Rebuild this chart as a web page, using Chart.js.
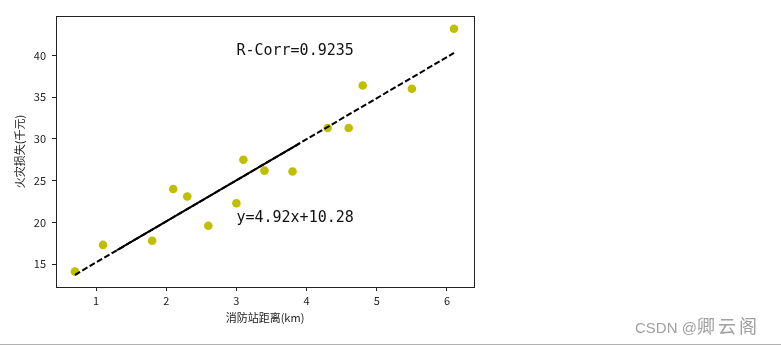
<!DOCTYPE html>
<html>
<head>
<meta charset="utf-8">
<script src="https://cdn.jsdelivr.net/npm/chart.js@4.4.1/dist/chart.umd.min.js"></script>
<style>
body{margin:0;background:#fff;width:781px;height:346px;overflow:hidden;position:relative}
#c{position:absolute;left:0;top:0}
#mark{position:absolute;left:635px;top:312px;color:#a0a0a0;font-family:"Liberation Sans",Arial,sans-serif;font-size:15px;white-space:nowrap}
#mark span{font-family:"Noto Sans CJK SC";font-size:18px;letter-spacing:3px}
#rule{position:absolute;left:0;top:344px;width:781px;height:1px;background:#b4b4b4}
</style>
</head>
<body>
<canvas id="c" width="781" height="346"></canvas>
<div id="mark">CSDN @<span>卿云阁</span></div>
<div id="rule"></div>
<script>
// data
var distance = [3.4, 1.8, 4.6, 2.3, 3.1, 5.5, 0.7, 3.0, 2.6, 4.3, 2.1, 1.1, 6.1, 4.8, 3.8];
var loss     = [26.2, 17.8, 31.3, 23.1, 27.5, 36.0, 14.1, 22.3, 19.6, 31.3, 24.0, 17.3, 43.2, 36.4, 26.1];
// regression line y=4.92x+10.28: dashed over the full range, solid-looking in the middle
var fitX      = [0.7, 6.1];
var fitY      = [13.72, 40.29];
var fitSolidX = [1.3, 3.9];
var fitSolidY = [16.68, 29.47];
var xTicks = [1, 2, 3, 4, 5, 6];
var yTicks = [15, 20, 25, 30, 35, 40];
var noteX = [3, 3];
var noteY = [40, 20];
var noteText = ['R-Corr=0.9235', 'y=4.92x+10.28'];
var xTitle = '消防站距离(km)';
var yTitle = '火灾损失(千元)';

function pairs(xs, ys){
	var out = [];
	for (var i = 0; i < xs.length; i++) out.push({x: xs[i], y: ys[i]});
	return out;
}

var cjk = '"Noto Sans CJK SC", sans-serif';

// frame round the plot + text notes
var extras = {
	id: 'extras',
	afterDatasetsDraw: function(chart){
		var ctx = chart.ctx, a = chart.chartArea,
			xs = chart.scales.x, ys = chart.scales.y;
		ctx.save();
		ctx.strokeStyle = '#222';
		ctx.lineWidth = 1;
		ctx.strokeRect(Math.round(a.left) + 0.5, Math.round(a.top) + 0.5, Math.round(a.right - a.left), Math.round(a.bottom - a.top));
		ctx.fillStyle = '#111';
		ctx.font = '15px "DejaVu Sans Mono", monospace';
		ctx.textAlign = 'left';
		ctx.textBaseline = 'alphabetic';
		for (var j = 0; j < noteText.length; j++) {
			ctx.fillText(noteText[j], xs.getPixelForValue(noteX[j]), ys.getPixelForValue(noteY[j]));
		}
		ctx.restore();
	}
};

new Chart(document.getElementById('c').getContext('2d'), {
	type: 'scatter',
	data: {
		datasets: [
			{ data: pairs(fitSolidX, fitSolidY), showLine: true, borderColor: '#000', borderWidth: 2,
			  pointRadius: 0, fill: false, order: 0 },
			{ data: pairs(fitX, fitY), showLine: true, borderColor: '#000', borderWidth: 2, borderDash: [6, 2.5],
			  pointRadius: 0, fill: false, order: 0 },
			{ data: pairs(distance, loss), backgroundColor: '#bfbf00', borderColor: '#bfbf00', borderWidth: 0,
			  pointRadius: 4.3, order: 1 }
		]
	},
	options: {
		responsive: false,
		animation: false,
		devicePixelRatio: 1,
		layout: { padding: { left: 0, right: 307, top: 16, bottom: 0 } },
		plugins: { legend: { display: false }, tooltip: { enabled: false } },
		scales: {
			x: {
				type: 'linear', min: 0.43, max: 6.385,
				afterBuildTicks: function(s){ s.ticks = xTicks.map(function(v){ return {value: v}; }); },
				afterFit: function(s){ s.height = 59; },
				grid: { drawOnChartArea: false, drawTicks: true, tickLength: 4, color: '#222' },
				border: { display: false },
				ticks: { color: '#222', padding: 3, font: { family: cjk, size: 11 } },
				title: { display: true, text: xTitle, color: '#222', font: { family: cjk, size: 11 },
				         padding: { top: 0, bottom: 22 } }
			},
			y: {
				type: 'linear', min: 12.26, max: 44.72,
				afterBuildTicks: function(s){ s.ticks = yTicks.map(function(v){ return {value: v}; }); },
				afterFit: function(s){ s.width = 56; },
				grid: { drawOnChartArea: false, drawTicks: true, tickLength: 4, color: '#222' },
				border: { display: false },
				ticks: { color: '#222', padding: 6, font: { family: cjk, size: 11 } },
				title: { display: true, text: yTitle, color: '#222', font: { family: cjk, size: 11 },
				         padding: { top: 13, bottom: 0 } }
			}
		}
	},
	plugins: [extras]
});
</script>
</body>
</html>
